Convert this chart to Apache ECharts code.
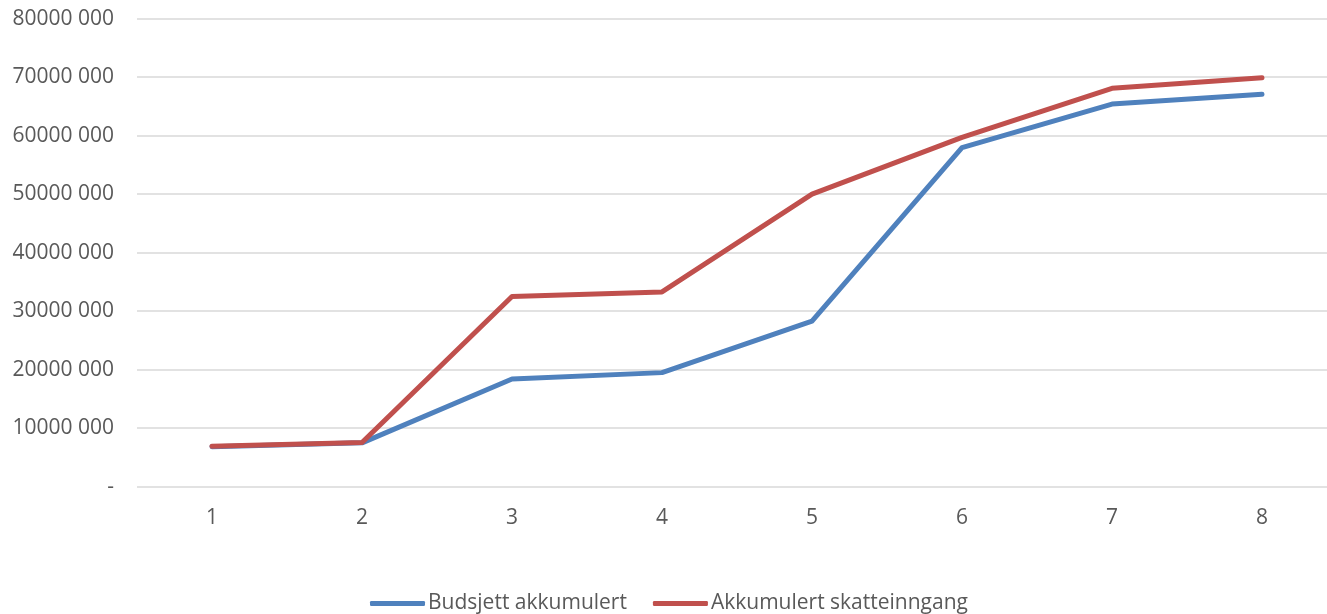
<!DOCTYPE html>
<html><head><meta charset="utf-8">
<script src="https://cdn.jsdelivr.net/npm/echarts@6/dist/echarts.min.js"></script>
<style>html,body{margin:0;padding:0;background:#fff}#c{width:1327px;height:614px}</style>
</head><body><div id="c"></div>
<script>
const categories = ['1','2','3','4','5','6','7','8'];
const budsjett = [6850000, 7500000, 18400000, 19500000, 28300000, 57950000, 65400000, 67100000];
const skatt = [6900000, 7550000, 32500000, 33300000, 50000000, 59700000, 68100000, 69900000];
const seriesNames = ['Budsjett akkumulert', 'Akkumulert skatteinngang'];
const yMax = 80000000, yStep = 10000000;

const chart = echarts.init(document.getElementById('c'));
const font = '"Open Sans", sans-serif';
chart.setOption({
  animation: false,
  textStyle: {fontFamily: font},
  grid: {left: 137, width: 1200, top: 18.7, bottom: 127.3, containLabel: false, outerBoundsMode: 'none'},
  legend: {
    top: 588, left: 365,
    itemWidth: 55, itemHeight: 5, itemGap: 26,
    icon: 'roundRect',
    textStyle: {fontFamily: font, fontSize: 21, color: '#595959', padding: [0,0,0,-2]},
    data: seriesNames
  },
  xAxis: {
    type: 'category', data: categories, boundaryGap: true,
    axisLine: {show: false}, axisTick: {show: false},
    axisLabel: {fontFamily: font, fontSize: 21, color: '#595959', margin: 21}
  },
  yAxis: {
    type: 'value', min: 0, max: yMax, interval: yStep,
    axisLine: {show: false}, axisTick: {show: false},
    splitLine: {lineStyle: {color: '#d9d9d9', width: 1.5}},
    axisLabel: {fontFamily: font, fontSize: 21, color: '#595959', margin: 23,
      formatter: v => v === 0 ? '-' : (v/1000) + ' 000'}
  },
  series: [
    {name: seriesNames[0], type: 'line', data: budsjett, symbol: 'none',
     lineStyle: {width: 5, color: '#4F81BD', cap: 'round', join: 'round'}, itemStyle: {color: '#4F81BD'}},
    {name: seriesNames[1], type: 'line', data: skatt, symbol: 'none',
     lineStyle: {width: 5, color: '#C0504D', cap: 'round', join: 'round'}, itemStyle: {color: '#C0504D'}}
  ]
});
</script></body></html>
